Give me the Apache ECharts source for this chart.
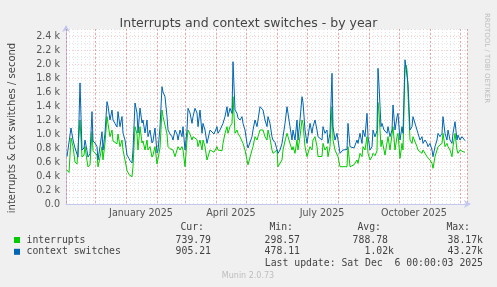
<!DOCTYPE html>
<html>
<head>
<meta charset="utf-8">
<title>Interrupts and context switches - by year</title>
<script src="https://cdn.jsdelivr.net/npm/echarts@6/dist/echarts.min.js"></script>
<style>
  html, body { margin: 0; padding: 0; background: #f0f0f0; }
  #chart { width: 497px; height: 287px; }
</style>
</head>
<body>
<div id="chart"></div>
<script>
// days since 2024-12-01, one row of ten per line
var dayOffsets = [
  -28,-26,-24,-22,-20,-18,-17,-15,-13,-11,
  -10,-8,-7,-5,-3,-2,0,2,3,5,
  7,8,10,12,13,15,17,18,20,22,
  23,25,27,28,30,32,34,35,37,38,
  40,42,43,45,47,48,50,52,53,55,
  57,58,60,62,63,65,67,68,70,72,
  73,75,77,78,80,82,83,85,87,88,
  90,92,93,95,97,98,100,102,103,105,
  107,108,110,112,113,115,117,119,120,122,
  123,125,127,128,130,132,133,135,137,138,
  140,142,143,145,147,148,150,152,153,155,
  157,158,160,162,163,165,167,168,170,172,
  173,175,177,178,180,182,183,185,187,188,
  190,192,193,195,197,198,200,202,203,205,
  207,208,210,212,213,215,217,218,220,222,
  223,225,227,228,230,232,233,235,237,238,
  240,242,243,245,247,248,250,252,253,255,
  257,259,260,262,263,265,267,268,270,272,
  273,275,277,278,280,282,283,284,286,287,
  289,290,292,293,295,297,298,300,302,303,
  305,307,308,310,311,312,313,315,317,318,
  320,322,323,325,327,328,330,332,333,335,
  337,338,340,342,343,345,347,348,350,352,
  353,355,357,358,360,362,363,365,367,368,
  370
];

var interrupts = [
  485,450,943,819,600,570,560,1200,670,700,
  819,620,530,560,1033,760,729,700,530,670,
  819,630,871,1248,1150,962,1057,900,880,860,
  1000,819,914,771,629,480,420,400,390,533,
  1105,1000,771,1105,871,900,771,914,771,819,
  670,700,819,571,560,800,1343,1250,1250,1000,
  819,790,771,771,676,700,819,771,819,771,
  533,914,1057,1000,914,962,962,920,819,914,
  771,914,819,629,650,771,750,740,730,819,
  771,750,760,866,1010,1105,1010,1105,1152,1533,
  1010,1057,1010,960,962,866,771,630,560,580,
  771,819,962,914,962,1057,1057,1057,962,914,
  1057,940,771,724,700,771,533,533,629,771,
  900,1010,962,866,771,819,724,914,771,962,
  1200,1150,819,676,676,819,771,914,962,819,
  676,700,680,866,771,819,676,819,1390,914,
  771,771,676,533,510,533,540,533,819,533,
  557,560,557,629,580,724,676,819,771,962,
  724,629,676,724,690,760,1450,1300,819,914,
  771,700,676,962,771,771,1105,771,962,1010,
  652,866,771,1950,1986,1914,1581,914,866,962,
  962,819,771,771,724,771,724,676,676,629,
  580,510,676,771,819,819,866,1010,819,866,
  819,771,676,819,1010,771,724,771,747,747,
  740
];

var contextSwitches = [
  676,650,1086,914,800,780,670,1730,771,800,
  914,760,670,720,1320,900,871,820,630,820,
  1033,771,1014,1462,1400,1200,1343,1200,1150,1100,
  1320,1105,1250,1014,914,700,650,620,586,771,
  1443,1300,1014,1371,1157,1200,1014,1200,962,1057,
  871,900,1086,729,760,1100,1676,1600,1533,1250,
  1057,1000,962,914,1057,1000,914,1057,962,1105,
  771,1057,1367,1300,1152,1248,1367,1300,1105,1343,
  1010,1152,1057,866,880,1057,1030,1000,1010,1105,
  1010,1057,1040,1152,1248,1390,1248,1367,1295,2033,
  1343,1295,1230,1200,1248,1152,1057,866,800,819,
  962,1057,1200,1105,1200,1390,1370,1343,1200,1105,
  1248,1150,960,914,880,866,724,771,866,962,
  1150,1390,1295,1105,914,1057,914,1200,914,1200,
  1533,1450,1057,866,962,1152,1010,1105,1200,1057,
  962,962,914,1105,1010,1057,866,1010,1867,1105,
  914,1010,914,724,700,771,771,780,1152,819,
  795,800,795,914,866,1010,866,1057,962,1295,
  962,771,819,1057,960,1050,1938,1700,1105,1152,
  1057,1030,1010,1105,962,1057,1414,1057,1248,1295,
  914,1105,1010,2060,2081,2057,1724,1057,1105,1248,
  1248,1057,1010,914,962,866,914,866,819,866,
  771,676,819,914,1010,962,1010,1248,1010,914,
  1057,914,866,1010,1176,914,985,914,962,938,
  905
];

var seriesNames = ['interrupts', 'context switches'];
var seriesColors = ['#00cc00', '#0066b3'];
var legendHeaders = ['Cur:', 'Min:', 'Avg:', 'Max:'];
var curValues = ['739.79', '905.21'];
var minValues = ['298.57', '478.11'];
var avgValues = ['788.78', '1.02k'];
var maxValues = ['38.17k', '43.27k'];
var monthNames = ['January','February','March','April','May','June','July','August','September','October','November','December'];

var DAY = 86400000;
var base = new Date(2024, 11, 1).getTime();
function ts(d) { return base + d * DAY; }

function pairs(vals) {
  var out = [];
  for (var i = 0; i < vals.length; i++) out.push([ts(dayOffsets[i]), vals[i]]);
  return out;
}

var chart = echarts.init(document.getElementById('chart'));
var mono = 'DejaVu Sans Mono';
var sans = 'DejaVu Sans';
var txtColor = '#444';
var redGrid = 'rgba(230,120,120,0.38)';
var redMonth = 'rgba(225,100,100,0.55)';
var grayGrid = 'rgba(170,170,170,0.3)';
var axisColor = '#c4c8f0';

// legend table below the plot
var graphics = [
  { type: 'text', x: 12, y: 128, rotation: Math.PI / 2,
    style: { text: 'interrupts & ctx switches / second', font: '10px ' + sans, fill: '#444',
      align: 'center', verticalAlign: 'middle' } },
  { type: 'text', x: 487, y: 58, rotation: -Math.PI / 2,
    style: { text: 'RRDTOOL / TOBI OETIKER', font: '7px ' + sans, fill: '#bdbdbd',
      align: 'center', verticalAlign: 'middle' } },
  { type: 'text', x: 248, y: 276,
    style: { text: 'Munin 2.0.73', font: '8px ' + sans, fill: '#bdbdbd',
      align: 'center', verticalAlign: 'middle' } },
  { type: 'text', x: 483, y: 263.5,
    style: { text: 'Last update: Sat Dec  6 00:00:03 2025', font: '9.8px ' + mono, fill: txtColor,
      align: 'right', verticalAlign: 'middle' } }
];
var headerX = [204, 293, 381, 470];
legendHeaders.forEach(function (h, i) {
  graphics.push({ type: 'text', x: headerX[i], y: 227.5,
    style: { text: h, font: '9.8px ' + mono, fill: txtColor, align: 'right', verticalAlign: 'middle' } });
});
var rowY = [240, 251.8];
seriesNames.forEach(function (name, i) {
  var y = rowY[i];
  graphics.push({ type: 'rect', shape: { x: 14, y: y - 3, width: 6, height: 6 },
    style: { fill: seriesColors[i] } });
  graphics.push({ type: 'text', x: 26.5, y: y,
    style: { text: name, font: '9.8px ' + mono, fill: txtColor, align: 'left', verticalAlign: 'middle' } });
  var cols = [[curValues[i], 211], [minValues[i], 300],
              [avgValues[i], /k$/.test(avgValues[i]) ? 394 : 388], [maxValues[i], 483]];
  cols.forEach(function (c) {
    graphics.push({ type: 'text', x: c[1], y: y,
      style: { text: c[0], font: '9.8px ' + mono, fill: txtColor, align: 'right', verticalAlign: 'middle' } });
  });
});

var option = {
  backgroundColor: '#f0f0f0',
  animation: false,
  title: {
    text: 'Interrupts and context switches - by year',
    left: 'center',
    top: 12,
    textStyle: { fontFamily: sans, fontSize: 12.5, fontWeight: 'normal', color: '#444' }
  },
  grid: {
    left: 66, right: 30, top: 29, bottom: 83,
    show: true, backgroundColor: '#ffffff', borderWidth: 0
  },
  xAxis: [{
    // months: red grid + labels
    type: 'time',
    min: ts(-29),
    max: ts(372),
    splitNumber: 13,
    minInterval: 28 * DAY,
    maxInterval: 31 * DAY,
    z: 3,
    axisLine: { lineStyle: { color: axisColor, width: 1 },
      symbol: ['none', 'arrow'], symbolSize: [6, 7], symbolOffset: [0, 4] },
    axisTick: { show: false },
    axisLabel: {
      color: '#555', fontFamily: sans, fontSize: 9.6, margin: 4,
      hideOverlap: false,
      padding: [0, 0, 0, 30],
      formatter: function (v) {
        var d = new Date(v);
        var m = d.getMonth();
        if (d.getDate() === 1 && d.getHours() === 0 && m % 3 === 0) return monthNames[m] + ' ' + d.getFullYear();
        return '';
      }
    },
    splitLine: { show: true, lineStyle: { color: redMonth, type: [2, 2], width: 1 } }
  }, {
    // weeks: gray grid only
    type: 'time',
    position: 'bottom',
    min: ts(-29),
    max: ts(372),
    minInterval: 7 * DAY,
    maxInterval: 7 * DAY,
    splitNumber: 57,
    z: 1,
    axisLine: { show: false },
    axisTick: { show: false },
    axisLabel: { show: false },
    splitLine: { show: true, lineStyle: { color: grayGrid, type: [1, 2], width: 1 } }
  }],
  yAxis: {
    type: 'value',
    min: 0,
    max: 2500,
    interval: 100,
    axisLine: { show: true, lineStyle: { color: axisColor, width: 1 },
      symbol: ['none', 'arrow'], symbolSize: [6, 7], symbolOffset: [0, 4] },
    axisTick: { show: false },
    axisLabel: {
      color: '#555', fontFamily: sans, fontSize: 9.6, margin: 6,
      formatter: function (v) {
        if (v % 200 !== 0) return '';
        return v === 0 ? '0.0' : (v / 1000).toFixed(1) + ' k';
      }
    },
    splitLine: { show: true, lineStyle: { color: [redGrid, grayGrid], type: [1, 2], width: 1 } }
  },
  series: [
    { name: seriesNames[0], type: 'line', data: pairs(interrupts), showSymbol: false, z: 5,
      lineStyle: { width: 1, color: seriesColors[0] }, itemStyle: { color: seriesColors[0] } },
    { name: seriesNames[1], type: 'line', data: pairs(contextSwitches), showSymbol: false, z: 6,
      lineStyle: { width: 1, color: seriesColors[1] }, itemStyle: { color: seriesColors[1] } }
  ],
  graphic: graphics
};

chart.setOption(option);
</script>
</body>
</html>
